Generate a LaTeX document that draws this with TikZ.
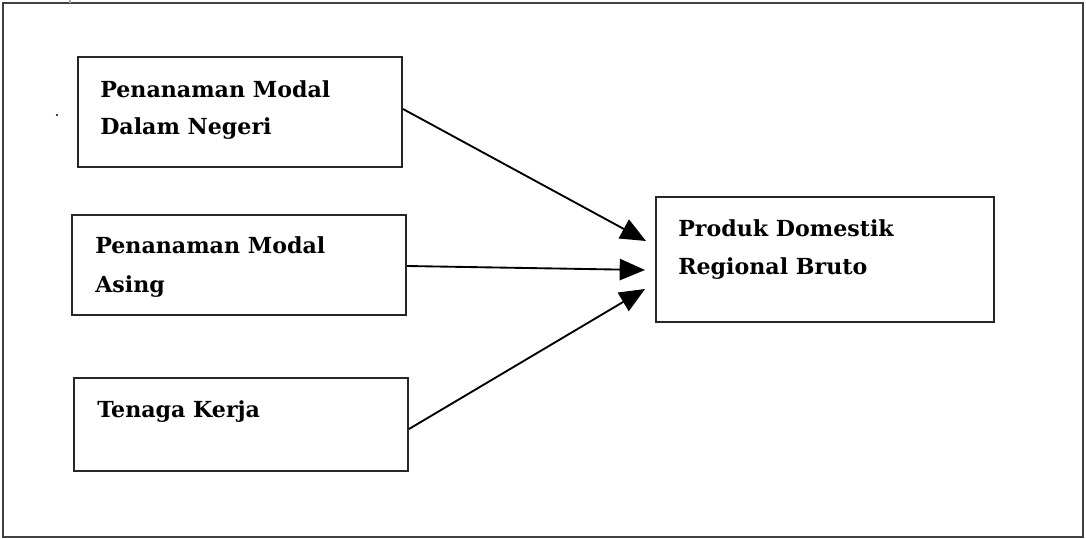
\documentclass[tikz,border=0pt]{standalone}
\usepackage{fontspec}
\setmainfont{DejaVu Serif}
\usetikzlibrary{arrows.meta,calc}
\begin{document}
\begin{tikzpicture}[x=0.75pt,y=-0.75pt,
  box/.style={draw=black!85,line width=1.5pt,rectangle,inner sep=0pt},
  lbl/.style={anchor=base west,inner sep=0pt,font=\fontsize{16.6pt}{20pt}\selectfont\bfseries},
  conn/.style={draw=black,line width=1.4pt,-{Triangle[length=19pt,width=16pt]}}]
\useasboundingbox (0,0) rectangle (1086,539);
\node[draw=black!75,line width=1.1pt,rectangle,inner sep=0pt,minimum width=810pt,minimum height=400.5pt] (frame) at (543,270) {};
\draw[black!35,line width=0.8pt] (70,0) -- (70,3);
\fill[black] (57,115) circle (0.9pt);
% boxes
\node[box,minimum width=243pt,minimum height=82.5pt] (b1) at (240,112) {};
\node[box,minimum width=250.5pt,minimum height=75pt] (b2) at (239,265) {};
\node[box,minimum width=250.5pt,minimum height=69.75pt] (b3) at (241,424.5) {};
\node[box,minimum width=253.5pt,minimum height=93.75pt] (b4) at (825,259.5) {};
% labels
\node[lbl] (t1a) at (100,97) {Penanaman Modal};
\node[lbl] (t1b) at (100,134) {Dalam Negeri};
\node[lbl] (t2a) at (95,253) {Penanaman Modal};
\node[lbl] (t2b) at (95,292) {Asing};
\node[lbl] (t3a) at (97,417) {Tenaga Kerja};
\node[lbl] (t4a) at (678,236) {Produk Domestik};
\node[lbl] (t4b) at (678,274) {Regional Bruto};
% connector ends
\coordinate (s1) at ($(b1.east)+(0,-3)$);
\coordinate (s2) at ($(b2.east)+(0,1)$);
\coordinate (s3) at ($(b3.east)+(0,4.5)$);
\coordinate (e1) at ($(b4.west)+(-9,-18.5)$);
\coordinate (e2) at ($(b4.west)+(-10,10.5)$);
\coordinate (e3) at ($(b4.west)+(-10,29.5)$);
\draw[conn] (s1) -- (e1);
\draw[conn] (s2) -- (e2);
\draw[conn] (s3) -- (e3);
\end{tikzpicture}
\end{document}
